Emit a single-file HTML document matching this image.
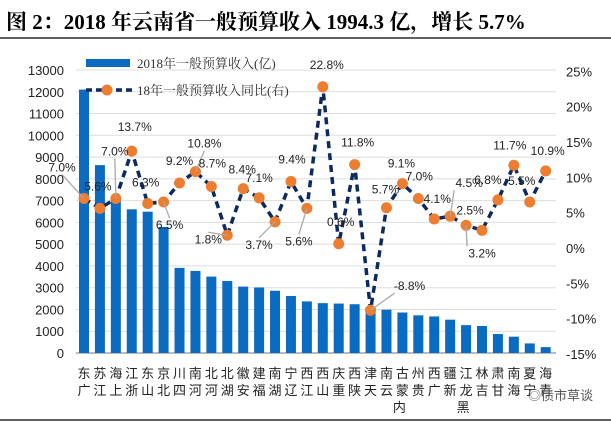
<!DOCTYPE html>
<html><head><meta charset="utf-8">
<style>
body{margin:0;background:#fff;width:611px;height:422px;overflow:hidden}
svg{display:block}
text{font-family:"Liberation Sans","Noto Sans CJK SC",sans-serif}
</style></head>
<body>
<svg id="chart" width="611" height="422">
<text x="6" y="29" font-size="21" font-weight="bold" style="font-family:'Liberation Serif','Noto Serif CJK SC',serif" fill="#000">图 2：2018 年云南省一般预算收入 1994.3 亿，增长 5.7%</text>
<line x1="0" y1="38" x2="611" y2="38" stroke="#000" stroke-width="1.2"/>
<line x1="0" y1="420" x2="611" y2="420" stroke="#000" stroke-width="1.2"/>
<g id="grid"></g><g id="bars"></g><g id="line"></g><g id="labels"></g><g id="axes"></g>
<g>
<rect x="86" y="59" width="44" height="8" fill="#0a6bc1"/>
<text x="137" y="68" font-size="13" style="font-family:'Liberation Serif','Noto Serif CJK SC',serif" fill="#333">2018年一般预算收入(亿)</text>
<line x1="86" y1="90" x2="132" y2="90" stroke="#0d2a5e" stroke-width="3.5" stroke-dasharray="6,4"/>
<circle cx="107" cy="90" r="5.5" fill="#ed7d31"/>
<text x="137" y="95" font-size="13" style="font-family:'Liberation Serif','Noto Serif CJK SC',serif" fill="#333">18年一般预算收入同比(右)</text>
</g>
<text x="528" y="400" font-size="13" fill="#555">◎债市草谈</text>
</svg>
<script>
const categories=["广东","江苏","上海","浙江","山东","北京","四川","河南","河北","湖北","安徽","福建","湖南","辽宁","江西","山西","重庆","陕西","天津","云南","内蒙古","贵州","广西","新疆","黑龙江","吉林","甘肃","海南","宁夏","青海"];
const revenue=[12100,8630,7110,6600,6490,5790,3910,3770,3510,3310,3050,3010,2860,2620,2370,2290,2270,2240,2110,1990,1860,1730,1680,1530,1280,1240,870,750,440,270];
const growth=[7.0,5.6,7.0,13.7,6.3,6.5,9.2,10.8,8.7,1.8,8.4,7.1,3.7,9.4,5.6,22.8,0.6,11.8,-8.8,5.7,9.1,7.0,4.1,4.5,3.2,2.5,6.8,11.7,6.5,10.9];
const growthText=["7.0%","5.6%","7.0%","13.7%","6.3%","6.5%","9.2%","10.8%","8.7%","1.8%","8.4%","7.1%","3.7%","9.4%","5.6%","22.8%","0.6%","11.8%","-8.8%","5.7%","9.1%","7.0%","4.1%","4.5%","3.2%","2.5%","6.8%","11.7%","5.5%","10.9%"];
const leftTicks=[0,1000,2000,3000,4000,5000,6000,7000,8000,9000,10000,11000,12000,13000];
const rightTicks=[-15,-10,-5,0,5,10,15,20,25];
// label offsets (style, not data): dx,dy from point to label centre
const lblOff=[[-22,-31],[-2,-22],[-1,-47],[3,-24],[-2,-21],[6,23],[0,-22],[9,-28],[1,-23],[-19,4],[-1,-19],[0,-20],[-16,23],[1,-22],[-8,33],[4,-22],[2,-22],[3,-22],[39,-24],[-1,-18],[-1,-20],[1,-22],[3,-20],[19,-33],[16,28],[-12,-20],[-10,-20],[-4,-20],[-8,-21],[2,-20]];
const leaders=[0,2,5,7,9,12,14,18,23,24];
const NS="http://www.w3.org/2000/svg";
const yL=v=>353-v*21.77/1000;
const yR=p=>248-p*7.07;
const xC=i=>84+i*15.92;
function mk(tag,attrs,parent){const e=document.createElementNS(NS,tag);for(const k in attrs)e.setAttribute(k,attrs[k]);parent.appendChild(e);return e;}
const grid=document.getElementById('grid'),axes=document.getElementById('axes');
leftTicks.forEach(t=>{
 const l=mk('line',{x1:76,x2:556,y1:yL(t),y2:yL(t),stroke:t===0?'#bbb':'#ddd','stroke-width':t===0?2:1},grid);
 
 
 const tx=mk('text',{x:64,y:yL(t)+5,'text-anchor':'end','font-size':13,fill:'#222'},axes);
 tx.textContent=t;
 
 
});
rightTicks.forEach(t=>{
 const tx=mk('text',{x:566,y:yR(t)+5,'font-size':13,fill:'#222'},axes);
 tx.textContent=t+'%';
 
 
});
const bars=document.getElementById('bars');
revenue.forEach((v,i)=>{
 const r=mk('rect',{x:xC(i)-5,y:yL(v),width:10,height:353-yL(v),fill:'#0a6bc1'},bars);
 
 
 const name=categories[i];
 const g=mk('text',{'font-size':13,fill:'#222'},axes);
 
 
 const n=name.length;
 [...name].forEach((ch,k)=>{
  const row=n-1-k; // last char on top
  const tt=mk('tspan',{x:xC(i)+(n===3&&k===0?-3:0),y:378+row*17,'text-anchor':'middle'},g);
  tt.textContent=ch;
 });
});
const lg=document.getElementById('line');
const pts=growth.map((p,i)=>xC(i)+','+yR(p)).join(' ');
const pl=mk('polyline',{points:pts,fill:'none',stroke:'#0d2a5e','stroke-width':3.5,'stroke-dasharray':'7,5'},lg);


const lab=document.getElementById('labels');
growth.forEach((p,i)=>{
 const cx=xC(i),cy=yR(p);
 const lx=cx+lblOff[i][0],ly=cy+lblOff[i][1];
 if(leaders.includes(i)){
  const ln=mk('line',{x1:cx,y1:cy,x2:lx+(lblOff[i][0]>15?-15:0),y2:ly+(lblOff[i][1]<0?7:-7),stroke:'#aaa','stroke-width':1.3},lab);
  
  
 }
 const c=mk('circle',{cx:cx,cy:cy,r:5.5,fill:'#ed7d31'},lg);
 
 
 const t=mk('text',{x:lx,y:ly+4,'text-anchor':'middle','font-size':12,fill:'#222'},lab);
 t.textContent=growthText[i];
 
 
});
</script>
</body></html>
